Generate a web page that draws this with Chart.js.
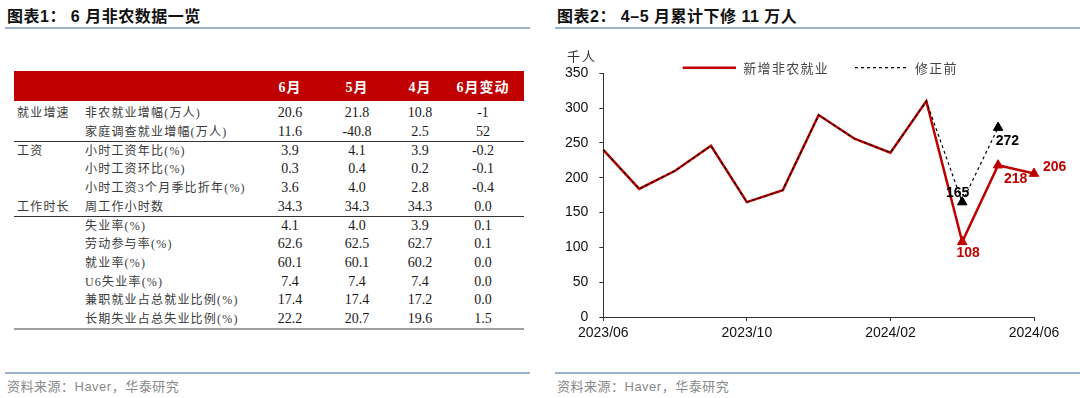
<!DOCTYPE html>
<html>
<head>
<meta charset="utf-8">
<script src="https://cdn.jsdelivr.net/npm/chart.js@4.4.0/dist/chart.umd.min.js"></script>
<style>
  body { margin: 0; width: 1080px; height: 398px; background: #fff; position: relative; overflow: hidden;
         font-family: "Liberation Sans", "Noto Sans CJK SC", sans-serif; }
  .title { position: absolute; top: 7px; font-size: 16px; font-weight: bold; color: #111; letter-spacing: 0.5px; line-height: 20px; white-space: nowrap; }
  .rule { position: absolute; height: 2px; background: #9fb4cc; }
  .src { position: absolute; top: 377px; font-size: 13px; color: #8a8a8a; line-height: 20px; letter-spacing: 0.5px; white-space: nowrap; }
  .head { position: absolute; left: 14px; top: 71px; width: 510px; height: 30px; background: #c00000; }
  .cell { position: absolute; line-height: 18px; height: 18px; white-space: nowrap;
          font-family: "Liberation Serif", "Noto Sans CJK SC", serif; }
  .cn { font-size: 12px; letter-spacing: 1.2px; color: #3a3a3a; }
  .num { font-size: 14px; color: #1a1a1a; text-align: center; width: 70px; }
  .hd { font-size: 14px; font-weight: bold; color: #fff; text-align: center; width: 70px; letter-spacing: 1px; }
  .line { position: absolute; left: 14px; width: 510px; height: 1px; background: #333; }
  #chart { position: absolute; left: 555px; top: 40px; }
</style>
</head>
<body>
<div class="title" style="left:7px">图表1： 6 月非农数据一览</div>
<div class="rule" style="left:5px;width:525px;top:27px"></div>
<div class="title" style="left:557px">图表2： 4–5 月累计下修 11 万人</div>
<div class="rule" style="left:555px;width:525px;top:27px"></div>

<div class="head"></div>
<div id="table"></div>

<canvas id="chart" width="525" height="320"></canvas>

<div class="rule" style="left:5px;width:525px;top:372px"></div>
<div class="src" style="left:7px">资料来源：Haver，华泰研究</div>
<div class="rule" style="left:555px;width:525px;top:372px"></div>
<div class="src" style="left:557px">资料来源：Haver，华泰研究</div>

<script>
// table data
const colHeads = ["6月", "5月", "4月", "6月变动"];
const groups = ["就业增速", "", "工资", "", "", "工作时长", "", "", "", "", "", ""];
const items = ["非农就业增幅(万人)", "家庭调查就业增幅(万人)", "小时工资年比(%)", "小时工资环比(%)",
  "小时工资3个月季比折年(%)", "周工作小时数", "失业率(%)", "劳动参与率(%)", "就业率(%)",
  "U6失业率(%)", "兼职就业占总就业比例(%)", "长期失业占总失业比例(%)"];
const jun = ["20.6", "11.6", "3.9", "0.3", "3.6", "34.3", "4.1", "62.6", "60.1", "7.4", "17.4", "22.2"];
const may = ["21.8", "-40.8", "4.1", "0.4", "4.0", "34.3", "4.0", "62.5", "60.1", "7.4", "17.4", "20.7"];
const apr = ["10.8", "2.5", "3.9", "0.2", "2.8", "34.3", "3.9", "62.7", "60.2", "7.4", "17.2", "19.6"];
const change = ["-1", "52", "-0.2", "-0.1", "-0.4", "0.0", "0.1", "0.1", "0.0", "0.0", "0.0", "1.5"];

// chart data (千人)
const months = ["2023/06", "2023/07", "2023/08", "2023/09", "2023/10", "2023/11", "2023/12",
  "2024/01", "2024/02", "2024/03", "2024/04", "2024/05", "2024/06"];
const payrolls = [240, 184, 210, 246, 165, 182, 290, 256, 236, 310, 108, 218, 206];
const beforeRevision = [240, 184, 210, 246, 165, 182, 290, 256, 236, 310, 165, 272, null];

// ---- table
const tbl = document.getElementById("table");
const colCenters = [290, 357, 420, 483];
const rowY = k => 113.3 + k * 18.7;
function cell(cls, text, x, y) {
  const d = document.createElement("div");
  d.className = "cell " + cls;
  d.textContent = text;
  d.style.left = x + "px";
  d.style.top = (y - 9) + "px";
  tbl.appendChild(d);
}
colHeads.forEach((h, j) => cell("hd", h, colCenters[j] - 35, 88));
const valueCols = [jun, may, apr, change];
items.forEach((it, k) => {
  const y = rowY(k);
  if (groups[k]) cell("cn", groups[k], 17, y);
  cell("cn", it, 85, y);
  valueCols.forEach((col, j) => cell("num", col[k], colCenters[j] - 35, y));
});
[[141, 1, "#333"], [215.5, 1, "#333"], [327.5, 2, "#a0a0a0"]].forEach(([y, h, c]) => {
  const l = document.createElement("div");
  l.className = "line";
  l.style.top = y + "px";
  l.style.height = h + "px";
  l.style.background = c;
  tbl.appendChild(l);
});

// ---- chart
const RED = "#c00000";
const labelStyle = {
  "新增非农就业": { 10: [6, 11.5], 11: [17.5, 14], 12: [20.7, -6.4] },
  "修正前": { 10: [-4.6, -8.7], 11: [9.3, 14] }
};

const extras = {
  id: "extras",
  afterDatasetsDraw(chart) {
    const ctx = chart.ctx;
    ctx.save();
    // unit
    ctx.font = "13px 'Noto Sans CJK SC'";
    ctx.fillStyle = "#333";
    ctx.textBaseline = "middle";
    ctx.textAlign = "left";
    ctx.letterSpacing = "2px";
    ctx.fillText("千人", 12, 16);
    // legend
    const legend = [
      { ds: chart.data.datasets[1], x0: 127.7, x1: 181, tx: 188.3 },
      { ds: chart.data.datasets[0], x0: 300, x1: 351.7, tx: 360 }
    ];
    legend.forEach(l => {
      ctx.beginPath();
      ctx.strokeStyle = l.ds.borderColor;
      ctx.lineWidth = l.ds.borderWidth;
      ctx.setLineDash(l.ds.borderDash || []);
      ctx.moveTo(l.x0, 27.7);
      ctx.lineTo(l.x1, 27.7);
      ctx.stroke();
      ctx.setLineDash([]);
      ctx.fillStyle = "#444";
      ctx.letterSpacing = "1.3px";
      ctx.fillText(l.ds.label, l.tx, 28);
    });
    // value labels
    ctx.letterSpacing = "0px";
    ctx.font = "bold 14px 'Liberation Sans'";
    ctx.textAlign = "center";
    chart.data.datasets.forEach((ds, di) => {
      const offs = labelStyle[ds.label] || {};
      const meta = chart.getDatasetMeta(di);
      Object.keys(offs).forEach(i => {
        const p = meta.data[i];
        ctx.fillStyle = ds.labelColor;
        ctx.fillText(String(ds.data[i]), p.x + offs[i][0], p.y + offs[i][1]);
      });
    });
    ctx.restore();
  }
};

new Chart(document.getElementById("chart"), {
  type: "line",
  data: {
    labels: months,
    datasets: [
      {
        label: "修正前",
        data: beforeRevision,
        borderColor: "#000",
        borderWidth: 1.2,
        borderDash: [3, 3],
        labelColor: "#000",
        pointStyle: "triangle",
        pointRadius: c => (c.index >= 10 ? 5.5 : 0),
        pointBackgroundColor: "#000",
        pointBorderColor: "#000",
        pointBorderWidth: 1,
        tension: 0
      },
      {
        label: "新增非农就业",
        data: payrolls,
        borderColor: RED,
        borderWidth: 2.5,
        labelColor: RED,
        pointStyle: "triangle",
        pointRadius: c => (c.index >= 10 ? 5.5 : 0),
        pointBackgroundColor: RED,
        pointBorderColor: RED,
        pointBorderWidth: 1,
        tension: 0
      }
    ]
  },
  options: {
    responsive: false,
    animation: false,
    events: [],
    layout: { padding: { top: 33.3, right: 46, left: 0, bottom: 0 } },
    plugins: { legend: { display: false }, tooltip: { enabled: false } },
    scales: {
      x: {
        grid: {
          drawOnChartArea: false,
          tickLength: 4,
          tickColor: c => (c.index % 4 === 0 ? "#333" : "rgba(0,0,0,0)")
        },
        border: { color: "#333", width: 1 },
        ticks: {
          autoSkip: false,
          maxRotation: 0,
          padding: 4,
          color: "#111",
          font: { size: 14, family: "Liberation Sans" },
          callback: (v, i) => (i % 4 === 0 ? months[i] : "")
        },
        afterFit: s => { s.height = 43; }
      },
      y: {
        min: 0,
        max: 350,
        grid: { drawOnChartArea: false, tickLength: 4, tickColor: "#333" },
        border: { color: "#333", width: 1 },
        ticks: {
          stepSize: 50,
          padding: 11,
          color: "#111",
          font: { size: 14, family: "Liberation Sans" }
        },
        afterFit: s => { s.width = 48.3; }
      }
    }
  },
  plugins: [extras]
});
</script>
</body>
</html>
